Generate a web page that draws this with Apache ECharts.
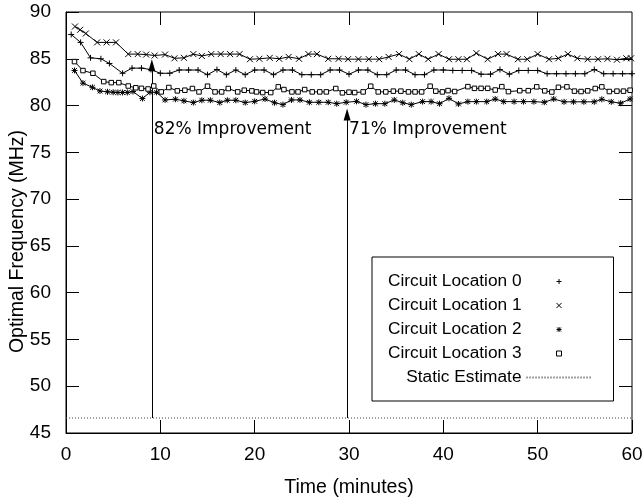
<!DOCTYPE html>
<html><head><meta charset="utf-8">
<script src="https://cdn.jsdelivr.net/npm/echarts@6/dist/echarts.min.js"></script>
<style>html,body{margin:0;padding:0;background:#fff}#c{width:644px;height:500px}</style>
</head><body><div id="c"></div>
<script>
const seriesNames = ['Circuit Location 0','Circuit Location 1','Circuit Location 2','Circuit Location 3'];
const staticName = 'Static Estimate';
const xTitle = 'Time (minutes)';
const yTitle = 'Optimal Frequency (MHz)';

const time0 = [0.55,1.55,2.6,3.7,4.6,6,7,8,9,10,11,12,13,14,15,16,17,18,19,20,21,22,23,24,25,26,27,28,29,30,31,32,33,34,35,36,37,38,39,40,41,42,43,44,45,46,47,48,49,50,51,52,53,54,55,56,57,58,59,60];
const freq0 = [87.6,86.75,85.1,85.0,84.5,83.45,84.0,84.0,83.85,83.45,83.45,83.8,83.8,83.8,83.3,83.85,83.3,83.8,83.3,83.8,83.8,83.3,83.8,83.8,83.3,83.3,83.3,83.8,83.8,83.35,83.8,83.8,83.3,83.3,83.8,83.8,83.3,83.3,83.8,83.8,83.75,83.75,83.75,83.35,83.35,83.85,83.35,83.75,83.75,83.75,83.4,83.4,83.4,83.4,83.4,83.85,83.4,83.4,83.4,83.4];
const time1 = [0.95,1.5,2.1,3.3,4.3,5.3,6.6,7.6,8.5,9.4,10.5,11.5,12.5,13.5,14.4,15.4,16.4,17.4,18.4,19.5,20.5,21.6,22.6,23.6,24.7,25.7,26.6,27.8,28.9,29.9,31.0,32.1,33.2,34.2,35.3,36.4,37.4,38.4,39.5,40.6,41.6,42.5,43.5,44.7,45.8,46.7,47.9,48.9,50.0,51.2,52.2,53.2,54.2,55.3,56.4,57.4,58.4,59.4,59.9];
const freq1 = [88.45,88.1,87.7,86.75,86.75,86.75,85.5,85.5,85.45,85.35,85.45,85.05,85.1,85.5,85.3,85.5,85.5,85.5,85.5,84.95,85.0,85.1,85.0,85.2,85.0,85.5,85.5,85.0,85.0,84.96,84.96,84.96,84.96,85.2,85.5,84.96,85.5,84.96,85.5,84.95,84.95,84.95,85.6,84.95,85.5,85.5,84.95,84.95,85.5,84.95,85.05,85.5,85.05,84.95,84.95,85.0,84.9,85.05,85.05];
const time2 = [0.9,1.8,2.8,3.6,4.4,5.0,5.5,6.0,6.5,7.1,8.1,8.9,9.6,10.5,11.6,12.5,13.5,14.4,15.3,16.3,17.1,18.0,19.0,20.0,21.1,22.1,23.0,23.9,24.8,25.8,26.8,27.8,28.7,29.7,30.8,31.8,32.8,33.8,34.8,35.7,36.6,37.8,38.7,39.6,40.6,41.6,42.6,43.5,44.6,45.5,46.4,47.5,48.5,49.6,50.7,51.7,52.8,53.8,54.9,56.0,56.8,57.8,58.8,59.8];
const freq2 = [83.75,82.4,81.95,81.55,81.47,81.42,81.4,81.4,81.4,81.5,80.75,81.42,81.42,80.6,80.68,80.5,80.32,80.57,80.57,80.32,80.57,80.57,80.32,80.45,80.7,80.3,80.1,80.6,80.6,80.35,80.35,80.35,80.2,80.35,80.45,80.1,80.2,80.2,80.6,80.3,80.1,80.42,80.42,80.2,80.77,80.17,80.42,80.42,80.42,80.7,80.42,80.42,80.42,80.42,80.35,80.7,80.4,80.4,80.4,80.4,80.67,80.4,80.25,80.7];
const time3 = [0.9,1.8,2.85,4.0,4.8,5.6,6.6,7.4,8.0,8.7,9.3,10.1,10.9,11.8,12.6,13.4,14.1,15.0,15.8,16.5,17.2,18.2,18.9,19.7,20.2,20.85,21.7,22.5,23.1,23.95,24.6,25.3,26.1,26.9,27.6,28.6,29.3,30.0,30.6,31.5,32.3,33.1,33.9,34.7,35.5,36.3,37.0,37.7,38.6,39.2,39.9,40.5,41.2,42.6,43.3,44.0,44.7,45.5,46.2,46.9,48.1,49.0,49.9,50.75,51.5,52.2,53.1,53.9,54.6,55.3,56.1,56.8,57.6,58.4,59.1,59.8];
const freq3 = [84.7,83.74,83.45,82.56,82.45,82.45,82.09,81.9,81.84,81.77,82.09,81.46,81.93,81.57,81.64,81.82,81.46,82.07,81.46,81.46,81.82,81.46,81.64,81.57,81.46,81.39,81.39,82.0,81.71,81.46,81.46,81.71,81.46,81.46,81.46,81.82,81.36,81.43,81.39,81.46,82.07,81.46,81.46,81.54,81.54,81.46,81.46,81.46,82.07,81.54,81.46,81.6,81.5,82.02,81.84,81.84,81.84,81.66,82.02,81.49,81.59,81.59,82.0,81.57,81.45,81.95,82.0,81.54,81.5,81.57,81.82,82.0,81.5,81.54,81.54,81.64];

const staticEstimate = 46.6;
const arrowTimes = [9.1, 29.8];
const arrowEnds = [84.3, 79.05];
const arrowLabels = ['82% Improvement', '71% Improvement'];
const arrowLabelLevel = 77.4;
const xMin = 0, xMax = 60, xTickStep = 10;
const yMin = 45, yMax = 90, yTickStep = 5;
const xTickValues = [10, 20, 30, 40, 50];
const yTickValues = [50, 55, 60, 65, 70, 75, 80, 85];

const markerPaths = [
  'path://M0,5L10,5M5,0L5,10',
  'path://M0,0L10,10M10,0L0,10',
  'path://M0,5L10,5M5,0L5,10M1,1L9,9M9,1L1,9',
  'path://M0,0L10,0L10,10L0,10Z'
];
const markerSizes = [6, 6, 6, 4.5];
const markerFill = ['#000', '#000', '#000', '#fff'];
const times = [time0, time1, time2, time3];
const freqs = [freq0, freq1, freq2, freq3];

const W = 644, H = 500;
const GRID = {left: 66, right: 12, top: 12, bottom: 67};
const TICK_LEN = 13;
const xTickLen = TICK_LEN * (xMax - xMin) / (W - GRID.left - GRID.right);
const yTickLen = TICK_LEN * (yMax - yMin) / (H - GRID.top - GRID.bottom);

const FONT = 'Liberation Sans';
const chart = echarts.init(document.getElementById('c'), null, {renderer: 'canvas'});

// mirrored ticks on the top and right edges of the frame
const mirrorTicks = [];
xTickValues.forEach(v => mirrorTicks.push([{coord: [v, yMax]}, {coord: [v, yMax - yTickLen]}]));
yTickValues.forEach(v => mirrorTicks.push([{coord: [xMax, v]}, {coord: [xMax - xTickLen, v]}]));
const arrowSegments = arrowTimes.map((t, i) => [
  {coord: [t, staticEstimate]},
  {coord: [t, arrowEnds[i]], symbol: 'path://M3.5,0L7,12L0,12Z', symbolSize: [7, 12]}
]);

const dataSeries = seriesNames.map((name, i) => ({
  name, type: 'line',
  data: times[i].map((t, k) => [t, freqs[i][k]]),
  symbol: markerPaths[i], symbolSize: markerSizes[i], showAllSymbol: true,
  itemStyle: {color: markerFill[i], borderColor: '#000', borderWidth: 1},
  lineStyle: {color: '#000', width: 1},
  emphasis: {disabled: true}, z: 3 + i
}));

const option = {
  animation: false,
  backgroundColor: '#fff',
  grid: Object.assign({outerBoundsMode: 'none', show: true, borderColor: '#000', borderWidth: 1, backgroundColor: 'transparent'}, GRID),
  xAxis: {
    type: 'value', min: xMin, max: xMax, interval: xTickStep, position: 'bottom',
    axisLine: {show: true, onZero: false, lineStyle: {color: '#000', width: 1}},
    axisTick: {show: true, inside: true, length: TICK_LEN, lineStyle: {color: '#000', width: 1}},
    splitLine: {show: false},
    axisLabel: {margin: 12, fontFamily: FONT, fontSize: 19, color: '#000'},
    name: xTitle, nameLocation: 'middle', nameGap: 45, nameMoveOverlap: false,
    nameTextStyle: {fontFamily: FONT, fontSize: 19.5, color: '#000'}
  },
  yAxis: {
    type: 'value', min: yMin, max: yMax, interval: yTickStep, position: 'left',
    axisLine: {show: true, onZero: false, lineStyle: {color: '#000', width: 1}},
    axisTick: {show: true, inside: true, length: TICK_LEN, lineStyle: {color: '#000', width: 1}},
    splitLine: {show: false},
    axisLabel: {margin: 15, fontFamily: FONT, fontSize: 19, color: '#000'},
    name: yTitle, nameLocation: 'middle', nameGap: 38, nameMoveOverlap: false,
    nameTextStyle: {fontFamily: FONT, fontSize: 19.5, color: '#000', padding: [0, 38, 0, 0]}
  },
  legend: {
    orient: 'vertical', left: 372, top: 257, align: 'right',
    padding: [16, 21, 15, 16], itemGap: 7, itemWidth: 65, itemHeight: 5,
    backgroundColor: '#fff', borderColor: '#000', borderWidth: 1, borderRadius: 0,
    textStyle: {fontFamily: FONT, fontSize: 17.3, color: '#000'},
    symbolKeepAspect: true, selectedMode: false,
    data: seriesNames.map((name, i) => ({
      name, icon: markerPaths[i],
      itemStyle: {color: markerFill[i], borderColor: '#000', borderWidth: 1}
    })).concat([{name: staticName, itemStyle: {opacity: 0}}])
  },
  series: dataSeries.concat([{
    name: staticName, type: 'line',
    data: [[xMin, staticEstimate], [xMax, staticEstimate]],
    symbol: 'none',
    lineStyle: {color: '#444', width: 1, type: [1, 2]},
    itemStyle: {color: '#444'},
    emphasis: {disabled: true}, z: 2,
    markLine: {
      silent: true, symbol: ['none', 'none'],
      label: {show: false},
      lineStyle: {color: '#000', width: 1, type: 'solid'},
      emphasis: {disabled: true},
      data: mirrorTicks.concat(arrowSegments)
    },
    markPoint: {
      silent: true, symbol: 'circle', symbolSize: 0,
      itemStyle: {color: 'transparent'},
      label: {show: true, position: 'right', distance: 2, fontFamily: 'DejaVu Sans', fontSize: 17, color: '#000',
        formatter: p => p.name},
      data: arrowTimes.map((t, i) => ({name: arrowLabels[i], coord: [t, arrowLabelLevel]}))
    }
  }])
};
chart.setOption(option);
</script>
</body></html>
